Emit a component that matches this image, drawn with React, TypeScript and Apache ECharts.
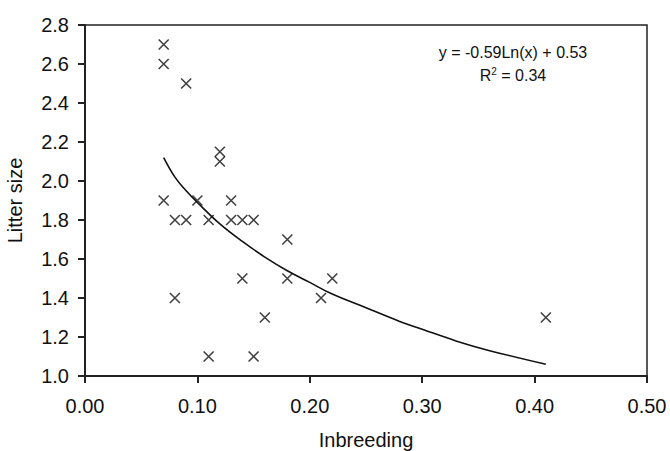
import React, { useEffect, useRef } from "react";
import * as echarts from "echarts";

const inbreeding = [0.07, 0.07, 0.09, 0.12, 0.12, 0.07, 0.08, 0.09, 0.10, 0.11, 0.13, 0.13, 0.14, 0.15, 0.18, 0.08, 0.14, 0.18, 0.22, 0.21, 0.16, 0.11, 0.15, 0.41];
const litterSize = [2.7, 2.6, 2.5, 2.15, 2.1, 1.9, 1.8, 1.8, 1.9, 1.8, 1.9, 1.8, 1.8, 1.8, 1.7, 1.4, 1.5, 1.5, 1.5, 1.4, 1.3, 1.1, 1.1, 1.3];

// Trend curve
const trendX = [0.07, 0.08, 0.09, 0.10, 0.12, 0.14, 0.16, 0.18, 0.20, 0.22, 0.25, 0.28, 0.30, 0.33, 0.36, 0.41];
const trendY = [2.12, 2.02, 1.95, 1.89, 1.78, 1.69, 1.61, 1.54, 1.48, 1.42, 1.35, 1.28, 1.24, 1.18, 1.13, 1.06];

const xTitle = "Inbreeding";
const yTitle = "Litter size";
const eqLine1 = "y = -0.59Ln(x) + 0.53";

export default function App() {
  const ref = useRef<HTMLDivElement>(null);
  useEffect(() => {
    if (!ref.current) return;
    const chart = echarts.init(ref.current, null, { renderer: "svg" });
    const font = "Liberation Sans, Arial, sans-serif";
    chart.setOption({
      animation: false,
      backgroundColor: "#fff",
      textStyle: { fontFamily: font },
      grid: {
        left: 85, right: 23, top: 25, bottom: 75,
        containLabel: false, outerBoundsMode: "none",
        show: true, borderColor: "#222", borderWidth: 1.5,
      },
      xAxis: {
        type: "value",
        min: 0,
        max: 0.5,
        interval: 0.1,
        name: xTitle,
        nameLocation: "middle",
        nameGap: 54,
        nameTextStyle: { fontSize: 20, color: "#111", fontFamily: font },
        axisLine: { show: true, lineStyle: { color: "#222", width: 2 } },
        axisTick: { show: true, inside: false, length: 7, lineStyle: { color: "#222", width: 2 } },
        axisLabel: { fontSize: 20, color: "#111", margin: 20, fontFamily: font, formatter: (v: number) => v.toFixed(2) },
        splitLine: { show: false },
      },
      yAxis: {
        type: "value",
        min: 1.0,
        max: 2.8,
        interval: 0.2,
        name: yTitle,
        nameLocation: "middle",
        nameGap: 60,
        nameRotate: 90,
        nameTextStyle: { fontSize: 20, color: "#111", fontFamily: font },
        axisLine: { show: true, lineStyle: { color: "#222", width: 2 } },
        axisTick: { show: true, inside: false, length: 7, lineStyle: { color: "#222", width: 2 } },
        axisLabel: { fontSize: 20, color: "#111", margin: 16, fontFamily: font, formatter: (v: number) => v.toFixed(1) },
        splitLine: { show: false },
      },
      series: [
        {
          type: "scatter",
          data: inbreeding.map((x, i) => [x, litterSize[i]]),
          symbol: "path://M0,0L10,10M10,0L0,10",
          symbolSize: 10,
          itemStyle: { color: "none", borderColor: "#111", borderWidth: 1.6 },
          z: 3,
        },
        {
          type: "line",
          data: trendX.map((x, i) => [x, trendY[i]]),
          smooth: 0.4,
          showSymbol: false,
          symbol: "none",
          lineStyle: { color: "#111", width: 1.6 },
          z: 2,
        },
      ],
      graphic: [
        {
          type: "text",
          x: 513,
          y: 52,
          style: {
            text: eqLine1,
            fontSize: 16,
            fontFamily: font,
            fill: "#111",
            align: "center",
            verticalAlign: "middle",
          },
        },
        {
          type: "text",
          x: 513,
          y: 75,
          style: {
            text: "R{sup|2} = 0.34",
            fontSize: 16,
            fontFamily: font,
            fill: "#111",
            align: "center",
            verticalAlign: "middle",
            rich: {
              sup: { fontSize: 10, verticalAlign: "top", padding: [0, 0, 7, 0], fill: "#111", fontFamily: font },
            },
          },
        },
      ],
    });
    return () => chart.dispose();
  }, []);
  return <div ref={ref} style={{ width: 670, height: 451, position: "absolute", left: 0, top: 0 }} />;
}
